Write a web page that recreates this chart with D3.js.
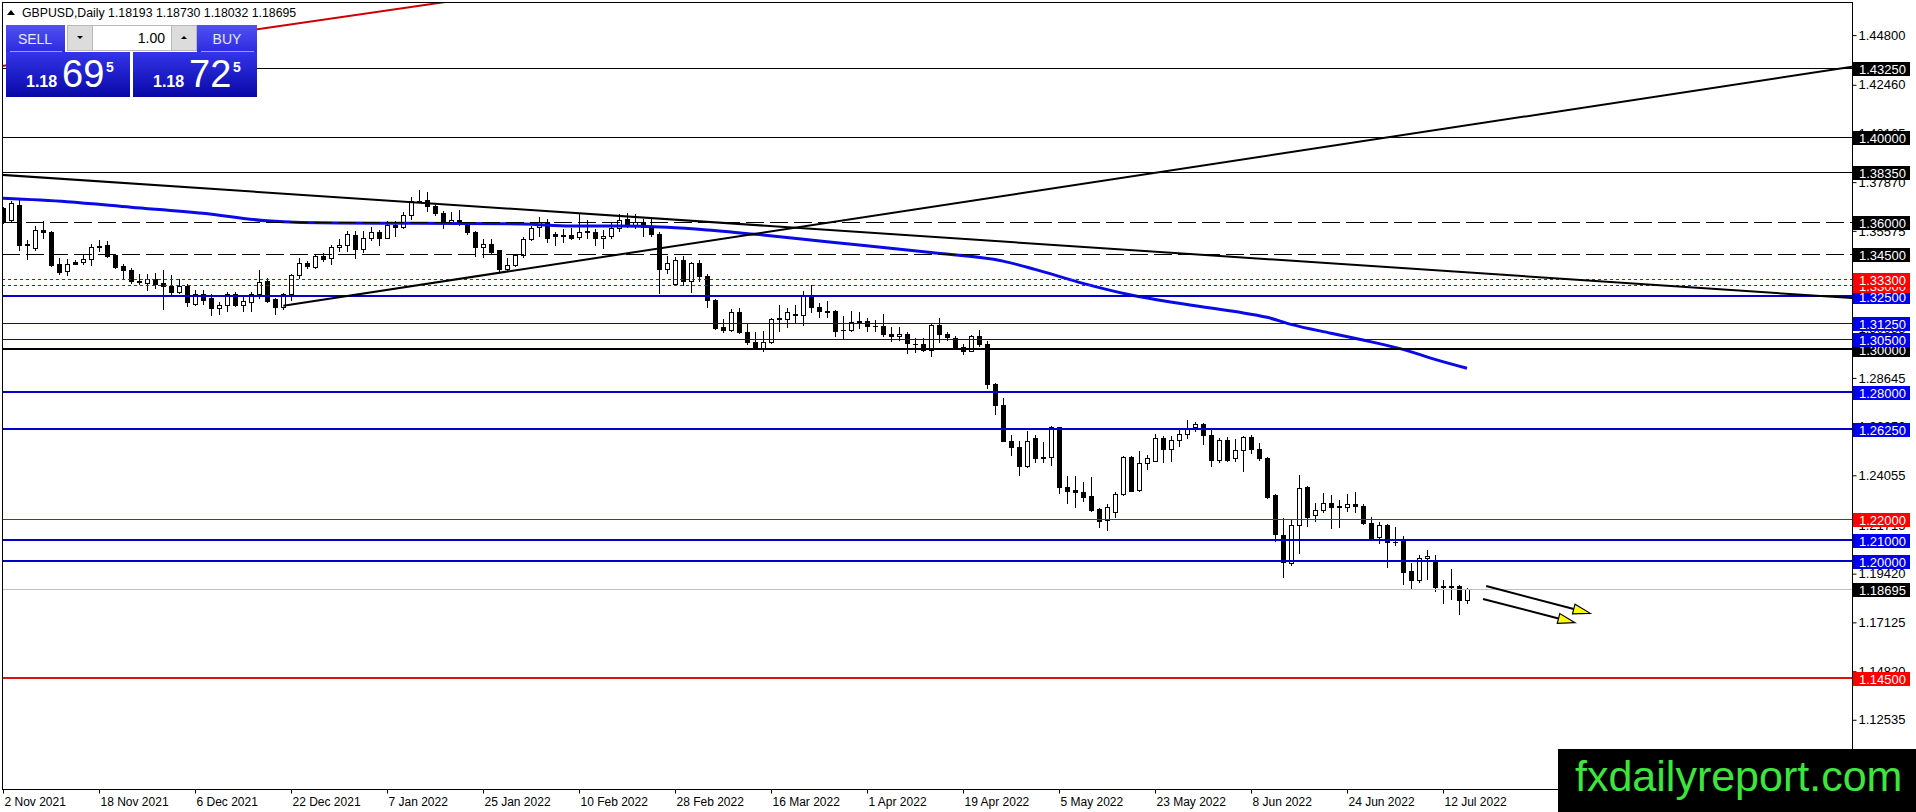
<!DOCTYPE html>
<html>
<head>
<meta charset="utf-8">
<script src="https://cdn.jsdelivr.net/npm/d3@7"></script>
<style>
  body { margin: 0; background: #fff; overflow: hidden; }
  svg { display: block; font-family: "Liberation Sans", Arial, sans-serif; }
</style>
</head>
<body>
<div id="chart"></div>
<script>
// GBPUSD daily, 2 Nov 2021 .. 15 Jul 2022 (one value per bar)
const opens = [1.3665,1.3609,1.3680,1.3491,1.3475,1.3562,1.3553,1.3400,1.3367,1.3411,1.3409,1.3423,1.3486,1.3490,1.3444,1.3392,1.3374,1.3320,1.3313,1.3330,
  1.3310,1.3296,1.3270,1.3296,1.3215,1.3258,1.3242,1.3195,1.3210,1.3261,1.3210,1.3223,1.3258,1.3321,1.3237,1.3199,1.3258,1.3348,1.3404,1.3387,
  1.3438,1.3428,1.3483,1.3493,1.3537,1.3471,1.3523,1.3553,1.3526,1.3586,1.3576,1.3632,1.3696,1.3703,1.3676,1.3641,1.3597,1.3608,1.3586,1.3550,
  1.3483,1.3494,1.3466,1.3376,1.3395,1.3444,1.3518,1.3576,1.3597,1.3545,1.3537,1.3539,1.3529,1.3554,1.3553,1.3526,1.3531,1.3573,1.3614,1.3581,
  1.3600,1.3570,1.3542,1.3379,1.3308,1.3418,1.3321,1.3404,1.3347,1.3234,1.3103,1.3092,1.3177,1.3082,1.3035,1.3005,1.3032,1.3142,1.3142,1.3161,
  1.3161,1.3250,1.3201,1.3179,1.3182,1.3090,1.3090,1.3134,1.3134,1.3111,1.3111,1.3071,1.3060,1.3071,1.3024,1.3024,1.2996,1.3114,1.3071,1.3052,
  1.3011,1.2992,1.3060,1.3024,1.2834,1.2736,1.2568,1.2540,1.2449,1.2581,1.2490,1.2490,1.2631,1.2352,1.2338,1.2329,1.2310,1.2247,1.2196,1.2232,
  1.2318,1.2490,1.2336,1.2463,1.2474,1.2581,1.2529,1.2571,1.2600,1.2631,1.2647,1.2596,1.2479,1.2571,1.2485,1.2524,1.2584,1.2529,1.2485,1.2315,
  1.2126,1.1991,1.2173,1.2350,1.2219,1.2243,1.2276,1.2259,1.2258,1.2268,1.2263,1.2181,1.2113,1.2173,1.2093,1.2098,1.1953,1.1912,1.2014,1.2003,
  1.1880,1.1884,1.1885,1.18193]
const highs = [1.3672,1.3696,1.3703,1.3513,1.3580,1.3602,1.3557,1.3428,1.3423,1.3420,1.3450,1.3494,1.3513,1.3510,1.3450,1.3403,1.3384,1.3352,1.3352,1.3360,
  1.3371,1.3349,1.3329,1.3308,1.3277,1.3281,1.3258,1.3223,1.3270,1.3267,1.3250,1.3267,1.3371,1.3337,1.3242,1.3266,1.3352,1.3431,1.3415,1.3447,
  1.3455,1.3491,1.3518,1.3557,1.3557,1.3557,1.3576,1.3561,1.3602,1.3602,1.3647,1.3715,1.3750,1.3740,1.3684,1.3652,1.3647,1.3657,1.3597,1.3557,
  1.3518,1.3518,1.3469,1.3428,1.3450,1.3529,1.3581,1.3624,1.3613,1.3550,1.3565,1.3570,1.3641,1.3608,1.3565,1.3561,1.3597,1.3636,1.3644,1.3639,
  1.3613,1.3613,1.3550,1.3437,1.3434,1.3437,1.3409,1.3418,1.3355,1.3237,1.3142,1.3190,1.3194,1.3122,1.3079,1.3087,1.3147,1.3210,1.3194,1.3210,
  1.3276,1.3300,1.3217,1.3226,1.3185,1.3158,1.3182,1.3177,1.3147,1.3139,1.3166,1.3103,1.3103,1.3079,1.3052,1.3052,1.3119,1.3147,1.3079,1.3060,
  1.3024,1.3066,1.3092,1.3037,1.2841,1.2769,1.2596,1.2568,1.2612,1.2596,1.2564,1.2637,1.2634,1.2404,1.2404,1.2373,1.2399,1.2250,1.2271,1.2326,
  1.2498,1.2498,1.2521,1.2502,1.2600,1.2592,1.2592,1.2618,1.2665,1.2657,1.2653,1.2618,1.2581,1.2587,1.2576,1.2592,1.2596,1.2556,1.2493,1.2318,
  1.2205,1.2195,1.2407,1.2357,1.2274,1.2323,1.2315,1.2291,1.2318,1.2326,1.2268,1.2211,1.2184,1.2175,1.2164,1.2121,1.1991,1.2031,1.2054,1.2031,
  1.1912,1.1964,1.1890,1.18730]
const lows = [1.3595,1.3605,1.3468,1.3423,1.3466,1.3523,1.3392,1.3352,1.3349,1.3400,1.3400,1.3395,1.3463,1.3434,1.3381,1.3337,1.3313,1.3308,1.3277,1.3289,
  1.3191,1.3255,1.3266,1.3203,1.3210,1.3214,1.3163,1.3166,1.3182,1.3203,1.3182,1.3179,1.3242,1.3223,1.3166,1.3191,1.3234,1.3337,1.3384,1.3384,
  1.3415,1.3403,1.3463,1.3463,1.3428,1.3460,1.3516,1.3491,1.3523,1.3532,1.3570,1.3614,1.3693,1.3649,1.3633,1.3570,1.3592,1.3586,1.3542,1.3439,
  1.3434,1.3455,1.3365,1.3371,1.3392,1.3434,1.3513,1.3534,1.3503,1.3491,1.3503,1.3518,1.3518,1.3523,1.3491,1.3479,1.3526,1.3557,1.3576,1.3573,
  1.3534,1.3534,1.3266,1.3360,1.3305,1.3300,1.3269,1.3321,1.3198,1.3095,1.3079,1.3087,1.3074,1.3024,1.3000,1.2992,1.3027,1.3087,1.3106,1.3122,
  1.3116,1.3174,1.3153,1.3153,1.3063,1.3048,1.3084,1.3098,1.3084,1.3087,1.3063,1.3040,1.3043,1.2980,1.2985,1.2989,1.2969,1.3032,1.3043,1.3000,
  1.2977,1.2989,1.3016,1.2819,1.2694,1.2565,1.2501,1.2407,1.2446,1.2466,1.2466,1.2455,1.2321,1.2274,1.2255,1.2286,1.2239,1.2161,1.2149,1.2211,
  1.2315,1.2330,1.2330,1.2435,1.2471,1.2466,1.2474,1.2545,1.2581,1.2615,1.2553,1.2451,1.2466,1.2471,1.2471,1.2427,1.2509,1.2477,1.2299,1.2098,
  1.1928,1.1984,1.2038,1.2168,1.2192,1.2231,1.2157,1.2164,1.2236,1.2231,1.2176,1.2101,1.2085,1.1972,1.2079,1.1893,1.1869,1.1901,1.1917,1.1858,
  1.1806,1.1822,1.1754,1.18032]
const closes = [1.3602,1.3687,1.3491,1.3495,1.3561,1.3550,1.3398,1.3365,1.3400,1.3403,1.3423,1.3483,1.3483,1.3438,1.3389,1.3371,1.3321,1.3317,1.3330,1.3308,
  1.3296,1.3270,1.3296,1.3223,1.3258,1.3231,1.3195,1.3210,1.3261,1.3207,1.3226,1.3258,1.3318,1.3226,1.3199,1.3258,1.3348,1.3404,1.3392,1.3438,
  1.3423,1.3483,1.3493,1.3542,1.3471,1.3523,1.3553,1.3526,1.3586,1.3576,1.3632,1.3696,1.3699,1.3676,1.3641,1.3600,1.3609,1.3592,1.3550,1.3483,
  1.3494,1.3460,1.3376,1.3395,1.3444,1.3521,1.3573,1.3597,1.3523,1.3534,1.3535,1.3526,1.3553,1.3557,1.3523,1.3534,1.3573,1.3608,1.3581,1.3600,
  1.3576,1.3542,1.3376,1.3405,1.3418,1.3321,1.3404,1.3344,1.3232,1.3100,1.3092,1.3177,1.3079,1.3032,1.3005,1.3035,1.3142,1.3145,1.3177,1.3164,
  1.3253,1.3198,1.3179,1.3177,1.3087,1.3088,1.3130,1.3123,1.3108,1.3108,1.3071,1.3060,1.3071,1.3027,1.3026,1.2996,1.3114,1.3071,1.3055,1.3005,
  1.2992,1.3060,1.3024,1.2834,1.2736,1.2568,1.2540,1.2449,1.2568,1.2485,1.2487,1.2631,1.2349,1.2330,1.2326,1.2305,1.2244,1.2189,1.2258,1.2318,
  1.2490,1.2333,1.2463,1.2487,1.2581,1.2529,1.2571,1.2600,1.2623,1.2647,1.2596,1.2477,1.2571,1.2479,1.2524,1.2584,1.2529,1.2485,1.2305,1.2127,
  1.1995,1.2173,1.2346,1.2211,1.2243,1.2276,1.2255,1.2257,1.2268,1.2261,1.2180,1.2110,1.2173,1.2090,1.2090,1.1948,1.1912,1.2016,1.2027,1.1880,
  1.1883,1.1880,1.1817,1.18695]

// blue moving average, read at some bars
const maBars = [0, 8, 16, 25, 33, 42, 52, 65, 71, 77, 83, 88, 95, 103, 116, 125, 129, 135, 141, 147, 154, 158, 161, 166, 170, 175, 179, 183]
const maValues = [1.3711, 1.3695, 1.3669, 1.3640, 1.3605, 1.3594, 1.3593, 1.3590, 1.3580, 1.3580, 1.3574, 1.3562, 1.3538, 1.3506, 1.3455,
  1.3415, 1.3376, 1.3310, 1.3255, 1.3216, 1.3177, 1.3150, 1.3117, 1.3075, 1.3043, 1.2999, 1.2952, 1.2910]

// horizontal levels
const blackLevels = [1.4325, 1.4000, 1.3835]
const dashedLevels = [1.3600, 1.3450]
const dottedRedLevels = [1.3330, 1.3300]
const blueLevels = [1.3250, 1.2800, 1.2625, 1.2100, 1.2000]
const thinBlueLevels = [1.3125, 1.3050]
const thickBlackLevels = [1.3000]
const redLevels = [1.2200]
const thickRedLevels = [1.1450]
const bidPrice = 1.18695

// trendlines: [bar, price] pairs
const trendDown = [[0, 1.3821], [231, 1.3241]]
const trendUp = [[35.04, 1.3205], [231.1, 1.4331]]
const trendRed = [[32, 1.4509], [49.25, 1.4603]]
const arrows = [
  [[185.4, 1.1884], [198.4, 1.1755]],
  [[185.0, 1.1823], [196.5, 1.1711]]
]

// axes
const priceTicks = [1.44800, 1.42460, 1.40165, 1.37870, 1.35575, 1.33280, 1.30985, 1.28645, 1.26350, 1.24055, 1.21715, 1.19420, 1.17125, 1.14820, 1.12535]
const dateTickBars = [0, 12, 24, 36, 48, 60, 72, 84, 96, 108, 120, 132, 144, 156, 168, 180]
const dateLabels = ["2 Nov 2021", "18 Nov 2021", "6 Dec 2021", "22 Dec 2021", "7 Jan 2022", "25 Jan 2022", "10 Feb 2022", "28 Feb 2022",
  "16 Mar 2022", "1 Apr 2022", "19 Apr 2022", "5 May 2022", "23 May 2022", "8 Jun 2022", "24 Jun 2022", "12 Jul 2022"]

const W = 1916, H = 812
const plotL = 2, plotT = 2, plotR = 1852, plotB = 789
const f5 = d3.format(".5f")

const x = d3.scaleLinear().domain([0, 231]).range([3, 1851])
const y = d3.scaleLinear().domain([1.09272, 1.46360]).range([plotB, plotT])

const svg = d3.select("#chart").append("svg")
  .attr("width", W).attr("height", H)

const defs = svg.append("defs")
defs.append("clipPath").attr("id", "plotClip")
  .append("rect").attr("x", plotL + 0.5).attr("y", plotT + 0.5)
  .attr("width", plotR - plotL - 0.5).attr("height", plotB - plotT - 0.5)

const gradBtn = defs.append("linearGradient").attr("id", "gBtn").attr("x1", 0).attr("y1", 0).attr("x2", 0).attr("y2", 1)
gradBtn.append("stop").attr("offset", 0).attr("stop-color", "#5050f4")
gradBtn.append("stop").attr("offset", 1).attr("stop-color", "#2c2ce0")
const gradPx = defs.append("linearGradient").attr("id", "gPx").attr("x1", 0).attr("y1", 0).attr("x2", 0).attr("y2", 1)
gradPx.append("stop").attr("offset", 0).attr("stop-color", "#3434ea")
gradPx.append("stop").attr("offset", 1).attr("stop-color", "#0808a6")

svg.append("rect").attr("width", W).attr("height", H).attr("fill", "#fff")

const plot = svg.append("g").attr("clip-path", "url(#plotClip)")

// candles
const candles = opens.map((o, i) => ({ i, o, h: highs[i], l: lows[i], c: closes[i] }))
const cg = plot.append("g").selectAll("g").data(candles).enter().append("g")
cg.append("line")
  .attr("x1", d => Math.round(x(d.i)) + 0.5).attr("x2", d => Math.round(x(d.i)) + 0.5)
  .attr("y1", d => Math.round(y(d.h))).attr("y2", d => Math.round(y(d.l)) + 1)
  .attr("stroke", "#000").attr("stroke-width", 1)
cg.each(function (d) {
  const g = d3.select(this)
  const cx = Math.round(x(d.i))
  const top = Math.round(y(Math.max(d.o, d.c)))
  const bot = Math.round(y(Math.min(d.o, d.c)))
  if (bot - top < 1) {
    g.append("line").attr("x1", cx - 2).attr("x2", cx + 3)
      .attr("y1", top + 0.5).attr("y2", top + 0.5).attr("stroke", "#000")
  } else {
    g.append("rect").attr("x", cx - 1.5).attr("y", top + 0.5)
      .attr("width", 4).attr("height", bot - top)
      .attr("fill", d.c >= d.o ? "#fff" : "#000").attr("stroke", "#000")
  }
})

// moving average
const maLine = d3.line().x(d => x(d[0])).y(d => y(d[1])).curve(d3.curveMonotoneX)
plot.append("path")
  .attr("d", maLine(maBars.map((b, i) => [b, maValues[i]])))
  .attr("fill", "none").attr("stroke", "#0a0ae6").attr("stroke-width", 3)

// horizontal levels
function levels(vals, color, width, dash) {
  plot.append("g").selectAll("line").data(vals).enter().append("line")
    .attr("x1", plotL).attr("x2", plotR)
    .attr("y1", d => Math.round(y(d)) + (width % 2 ? 0.5 : 0))
    .attr("y2", d => Math.round(y(d)) + (width % 2 ? 0.5 : 0))
    .attr("stroke", color).attr("stroke-width", width)
    .attr("stroke-dasharray", dash)
}
levels([bidPrice], "#c0c0c0", 1, null)
levels(blackLevels, "#000", 1, null)
levels(dashedLevels, "#000", 1, "18,6")
levels(dottedRedLevels, "#c00000", 1, "3,3")
levels(thinBlueLevels, "#0000c8", 1, null)
levels(blueLevels, "#0000c8", 2, null)
levels(thickBlackLevels, "#000", 2, null)
levels(redLevels, "#dd0000", 1, null)
levels(thickRedLevels, "#dd1111", 2, null)

// trendlines, drawn as rays
function ray(pts, fromBar, toBar, color) {
  const [a, b] = pts
  const k = (b[1] - a[1]) / (b[0] - a[0])
  const at = bar => a[1] + k * (bar - a[0])
  plot.append("line")
    .attr("x1", x(fromBar)).attr("y1", y(at(fromBar)))
    .attr("x2", x(toBar)).attr("y2", y(at(toBar)))
    .attr("stroke", color).attr("stroke-width", 2)
}
ray(trendDown, -1, 232, "#000")
ray(trendUp, trendUp[0][0], 232, "#000")
ray(trendRed, -1, 232, "#cc0000")

// arrows
arrows.forEach(([a, b]) => {
  const x1 = x(a[0]), y1 = y(a[1]), x2 = x(b[0]), y2 = y(b[1])
  const ang = Math.atan2(y2 - y1, x2 - x1)
  const L = 17, hw = 5
  const bx = x2 - L * Math.cos(ang), by = y2 - L * Math.sin(ang)
  plot.append("line").attr("x1", x1).attr("y1", y1).attr("x2", bx).attr("y2", by)
    .attr("stroke", "#000").attr("stroke-width", 2)
  plot.append("polygon")
    .attr("points", [[x2, y2], [bx - hw * Math.sin(ang), by + hw * Math.cos(ang)], [bx + hw * Math.sin(ang), by - hw * Math.cos(ang)]].join(" "))
    .attr("fill", "#ffff00").attr("stroke", "#000").attr("stroke-width", 1.2)
})

// frame
svg.append("rect").attr("x", plotL + 0.5).attr("y", plotT + 0.5)
  .attr("width", plotR - plotL).attr("height", plotB - plotT)
  .attr("fill", "none").attr("stroke", "#000")

// price axis
const yAxis = svg.append("g").attr("transform", `translate(${plotR + 0.5},0)`)
  .call(d3.axisRight(y).tickValues(priceTicks).tickSize(4).tickFormat(f5))
yAxis.select(".domain").remove()
yAxis.selectAll("text").attr("x", 6).attr("font-size", 13).attr("font-family", "Liberation Sans, Arial, sans-serif").attr("fill", "#000")

// date axis
const xAxis = svg.append("g").attr("transform", `translate(0,${plotB + 0.5})`)
  .call(d3.axisBottom(x).tickValues(dateTickBars).tickSize(4).tickFormat((d, i) => dateLabels[i]))
xAxis.select(".domain").remove()
xAxis.selectAll("text").attr("text-anchor", "start").attr("x", 1).attr("y", 8)
  .attr("font-size", 12).attr("font-family", "Liberation Sans, Arial, sans-serif").attr("fill", "#000")

// level labels on the price scale
const labelItems = []
blackLevels.concat(dashedLevels, thickBlackLevels).forEach(v => labelItems.push({ v, bg: "#000" }))
dottedRedLevels.concat(redLevels, thickRedLevels).forEach(v => labelItems.push({ v, bg: "#ff0000" }))
blueLevels.concat(thinBlueLevels).forEach(v => labelItems.push({ v, bg: "#0000f0" }))
labelItems.push({ v: bidPrice, bg: "#000" })
labelItems.sort((a, b) => a.v - b.v)
const lab = svg.append("g").selectAll("g").data(labelItems).enter().append("g")
  .attr("transform", d => `translate(${plotR + 1},${Math.round(y(d.v))})`)
lab.append("rect").attr("x", 0).attr("y", -6).attr("width", 57).attr("height", 14).attr("fill", d => d.bg)
lab.append("text").attr("x", 6).attr("y", 5.5).attr("font-size", 13).attr("fill", "#fff").text(d => f5(d.v))

// watermark
svg.append("rect").attr("x", 1558).attr("y", 749).attr("width", 358).attr("height", 63).attr("fill", "#000")
svg.append("text").attr("x", 1575).attr("y", 791).attr("font-size", 43)
  .attr("fill", "#3ce63c").text("fxdailyreport.com")

// header
const last = candles[candles.length - 1]
svg.append("path").attr("d", "M7,15 L11,10 L15,15 Z").attr("fill", "#000")
svg.append("text").attr("x", 22).attr("y", 17).attr("font-size", 12.3).attr("fill", "#000")
  .text(`GBPUSD,Daily  ${f5(last.o)} ${f5(last.h)} ${f5(last.l)} ${f5(last.c)}`)

// one click trading panel
const panel = svg.append("g")
panel.append("rect").attr("x", 6).attr("y", 25).attr("width", 251).attr("height", 72).attr("fill", "#fff")
panel.append("rect").attr("x", 6).attr("y", 25).attr("width", 59).attr("height", 27).attr("fill", "url(#gBtn)")
panel.append("rect").attr("x", 197).attr("y", 25).attr("width", 60).attr("height", 27).attr("fill", "url(#gBtn)")
panel.append("line").attr("x1", 10).attr("x2", 62).attr("y1", 51.5).attr("y2", 51.5).attr("stroke", "#9a9af8")
panel.append("line").attr("x1", 201).attr("x2", 254).attr("y1", 51.5).attr("y2", 51.5).attr("stroke", "#9a9af8")
panel.append("text").attr("x", 35).attr("y", 44).attr("text-anchor", "middle").attr("font-size", 14).attr("fill", "#e8e8ff").text("SELL")
panel.append("text").attr("x", 227).attr("y", 44).attr("text-anchor", "middle").attr("font-size", 14).attr("fill", "#e8e8ff").text("BUY")
panel.append("rect").attr("x", 67.5).attr("y", 25.5).attr("width", 129).attr("height", 25).attr("fill", "#fff").attr("stroke", "#b8b8b8")
panel.append("rect").attr("x", 67.5).attr("y", 25.5).attr("width", 25).attr("height", 25).attr("fill", "#dcdcdc").attr("stroke", "#b8b8b8")
panel.append("rect").attr("x", 171.5).attr("y", 25.5).attr("width", 25).attr("height", 25).attr("fill", "#dcdcdc").attr("stroke", "#b8b8b8")
panel.append("path").attr("d", "M77,36 L83,36 L80,39 Z").attr("fill", "#000")
panel.append("path").attr("d", "M181,39 L187,39 L184,36 Z").attr("fill", "#000")
panel.append("text").attr("x", 165).attr("y", 43).attr("text-anchor", "end").attr("font-size", 14).attr("fill", "#000").text("1.00")

const bid = f5(last.c), ask = "1.18725"
const boxes = [{ x0: 6, price: bid }, { x0: 133, price: ask }]
boxes.forEach(b => {
  panel.append("rect").attr("x", b.x0).attr("y", 52).attr("width", 124).attr("height", 45).attr("fill", "url(#gPx)")
  panel.append("text").attr("x", b.x0 + 20).attr("y", 87).attr("font-size", 16).attr("font-weight", "bold").attr("fill", "#fff").text(b.price.slice(0, 4))
  panel.append("text").attr("x", b.x0 + 56).attr("y", 87).attr("font-size", 38).attr("fill", "#fff").text(b.price.slice(4, 6))
  panel.append("text").attr("x", b.x0 + 100).attr("y", 72).attr("font-size", 14).attr("font-weight", "bold").attr("fill", "#fff").text(b.price.slice(6))
})
</script>
</body>
</html>
